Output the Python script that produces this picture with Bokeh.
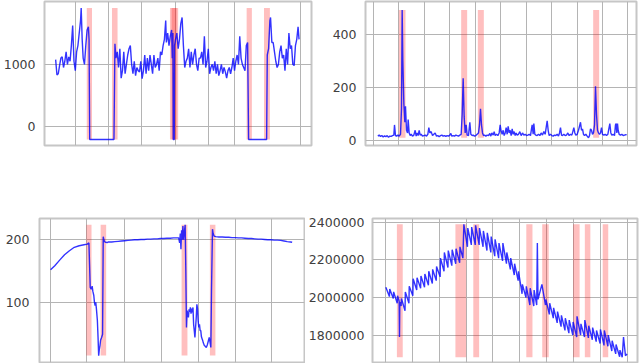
from bokeh.plotting import figure
from bokeh.layouts import column, row
from bokeh.models import Range1d, FixedTicker, BasicTickFormatter
from bokeh.embed import file_html
from bokeh.resources import INLINE

# ---------------- data (time steps, values) ----------------
tl_t = [152, 156, 160, 164, 168, 172, 176, 180, 184, 188,
        192, 196, 200, 204, 208, 212, 216, 220, 224, 228,
        230, 233, 236, 240, 244, 248, 252, 254, 256, 330,
        333, 336, 340, 344, 348, 352, 356, 360, 364, 368,
        372, 376, 380, 384, 388, 392, 396, 400, 404, 408,
        412, 416, 420, 424, 428, 432, 436, 440, 444, 448,
        452, 456, 460, 464, 468, 472, 476, 480, 484, 488,
        490, 494, 498, 502, 506, 508, 510, 511, 514, 515,
        518, 522, 526, 530, 534, 538, 542, 546, 550, 554,
        558, 562, 566, 570, 574, 578, 582, 586, 590, 594,
        598, 602, 606, 610, 614, 618, 622, 626, 630, 634,
        638, 642, 646, 650, 654, 658, 662, 666, 670, 674,
        678, 682, 686, 690, 694, 698, 702, 706, 710, 714,
        718, 722, 726, 730, 734, 738, 741, 796, 798, 802,
        806, 808, 812, 816, 820, 824, 828, 832, 836, 840,
        844, 848, 852, 856, 860, 864, 868, 872, 876, 880,
        884, 888, 892, 895]
tl_v = [1075, 830, 850, 980, 1100, 1120, 950, 1050, 1200, 1000,
        1120, 1050, 1300, 1620, 1050, 900, 1200, 1300, 1500, 1700,
        1900, 1400, 1100, 1000, 1300, 1550, 1600, 1400, -200, -200,
        1330, 1100, 1200, 950, 1250, 780, 900, 1200, 850, 1000,
        1150, 1250, 1300, 1000, 850, 1050, 820, 950, 900, 880,
        1050, 770, 900, 1150, 850, 1100, 900, 1150, 1000, 850,
        1150, 950, 1000, 1100, 900, 1200, 1150, 1300, 1400, 1700,
        1350, 1500, 1300, 1450, 1550, 1100, 1500, -200, -200, 1300,
        1400, 1500, 1250, 1400, 1650, 1750, 1300, 950, 1050, 1100,
        1250, 950, 1200, 1000, 1150, 1250, 1000, 900, 1100, 1100,
        1200, 1000, 1450, 950, 1050, 1250, 850, 950, 1000, 900,
        1050, 850, 1000, 820, 900, 1000, 850, 950, 880, 780,
        900, 950, 850, 950, 1100, 900, 1050, 1150, 1000, 1450,
        1100, 1000, 950, 900, 1300, 1350, -200, -200, 1150, 1250,
        1700, 1750, 1350, 1350, 1200, 1050, 950, 1000, 1200, 1300,
        1100, 1150, 900, 1250, 1000, 1500, 1250, 1300, 1000, 980,
        1300, 1400, 1600, 1400]
tl_band_start = [247, 324, 501, 506, 735, 788]
tl_band_end = [263, 341, 521, 526, 751, 806]
tl_xticks = [212, 313, 415, 518, 620, 697, 898]
tl_yticks = [0, 1000]

tr_t = [172, 176, 180, 184, 188, 192, 196, 200, 204, 208,
        212, 216, 220, 222, 225, 228, 232, 236, 240, 243,
        245, 247, 250, 253, 255, 258, 261, 263, 266, 269,
        272, 276, 280, 284, 287, 290, 293, 296, 299, 302,
        306, 310, 314, 318, 322, 325, 328, 332, 336, 340,
        344, 348, 352, 356, 360, 364, 368, 372, 376, 380,
        384, 388, 391, 394, 398, 402, 406, 410, 414, 418,
        422, 425, 428, 431, 434, 437, 440, 444, 448, 451,
        455, 458, 462, 466, 470, 474, 477, 480, 483, 486,
        489, 492, 496, 500, 504, 508, 511, 514, 518, 521,
        524, 528, 532, 536, 539, 542, 545, 548, 551, 554,
        557, 560, 563, 566, 569, 572, 575, 578, 581, 584,
        587, 590, 594, 598, 602, 606, 610, 614, 618, 622,
        626, 630, 633, 635, 638, 640, 643, 646, 650, 654,
        658, 662, 666, 670, 674, 677, 680, 683, 686, 690,
        694, 698, 702, 706, 710, 714, 717, 720, 723, 726,
        730, 734, 738, 742, 746, 750, 754, 757, 760, 763,
        766, 770, 774, 777, 780, 783, 786, 789, 792, 796,
        800, 804, 807, 810, 813, 816, 819, 822, 825, 828,
        831, 834, 837, 840, 843, 846, 850, 854, 858, 862,
        865, 868, 871, 874, 878, 882, 885, 887, 889, 891,
        893, 896, 900, 904, 908, 912, 916, 918]
tr_v = [18, 22, 17, 20, 15, 19, 16, 20, 14, 18,
        17, 20, 22, 60, 20, 18, 22, 18, 25, 120,
        490, 300, 140, 70, 130, 40, 30, 80, 30, 20,
        25, 18, 22, 40, 18, 30, 20, 40, 22, 25,
        18, 20, 22, 18, 25, 50, 30, 35, 20, 25,
        30, 18, 20, 16, 20, 22, 18, 20, 17, 20,
        18, 22, 28, 18, 20, 18, 22, 20, 18, 22,
        25, 100, 235, 90, 30, 60, 22, 20, 70, 25,
        20, 22, 18, 20, 25, 30, 60, 120, 60, 30,
        20, 22, 18, 22, 20, 28, 18, 30, 22, 35,
        20, 25, 20, 30, 60, 35, 25, 40, 20, 30,
        50, 25, 55, 30, 40, 20, 45, 25, 35, 20,
        30, 22, 25, 35, 20, 30, 22, 25, 20, 22,
        25, 20, 45, 60, 25, 65, 25, 22, 20, 25,
        20, 30, 22, 35, 25, 50, 75, 40, 20, 25,
        20, 18, 22, 20, 25, 18, 30, 50, 22, 20,
        25, 20, 22, 30, 20, 25, 22, 35, 50, 30,
        22, 25, 40, 55, 70, 40, 45, 25, 20, 25,
        18, 12, 20, 45, 40, 25, 30, 60, 205, 100,
        40, 30, 25, 30, 50, 25, 22, 25, 20, 25,
        45, 65, 30, 22, 25, 20, 60, 65, 30, 65,
        40, 25, 22, 25, 20, 22, 24, 22]
tr_band_start = [235, 422, 472, 818]
tr_band_end = [255, 440, 490, 836]
tr_xticks = [160, 235, 312, 388, 465, 540, 617, 693, 770, 845, 920]
tr_yticks = [0, 200, 400]

bl_t = [152, 165, 180, 195, 210, 225, 240, 255, 265, 270,
        272, 274, 277, 280, 282, 285, 287, 289, 291, 293,
        296, 298, 300, 302, 304, 306, 309, 312, 314, 316,
        318, 322, 326, 330, 340, 350, 360, 370, 380, 390,
        400, 410, 420, 430, 440, 450, 460, 470, 480, 490,
        500, 510, 520, 530, 540, 546, 549, 551, 553, 555,
        557, 559, 561, 563, 566, 568, 570, 572, 574, 576,
        578, 580, 582, 584, 586, 588, 590, 592, 594, 596,
        598, 600, 602, 604, 606, 608, 610, 612, 614, 616,
        618, 620, 622, 625, 628, 631, 634, 637, 640, 643,
        645, 647, 650, 652, 655, 660, 670, 680, 690, 700,
        710, 720, 730, 740, 750, 760, 770, 780, 790, 800,
        810, 820, 830, 840, 850, 860, 870, 880, 890, 895]
bl_v = [152, 158.5, 167.5, 176, 182.5, 188, 190.5, 192, 193, 195,
        160, 124, 121, 126, 118, 111, 100, 95, 100, 90,
        71, 45, 15, 25, 31, 40, 44, 49, 205, 200,
        197, 196, 195.5, 196.5, 196.5, 197, 197.5, 198, 198.5, 199,
        199.5, 200, 200, 200.5, 200.5, 201, 201, 201.5, 201.5, 202,
        202, 202.5, 202.5, 203, 203, 203, 195, 210, 185, 215,
        200, 222, 200, 210, 224, 150, 60, 87, 80, 76,
        89, 85, 92, 82, 90, 84, 92, 65, 55, 44,
        60, 75, 97, 90, 70, 60, 65, 55, 55, 45,
        42, 39, 35, 31, 30, 28, 32, 38, 44, 35,
        28, 120, 217, 210, 206, 205, 204.5, 204.5, 204, 204,
        203.5, 203.5, 203, 203, 202.5, 202, 202, 201.5, 201, 201,
        200.5, 200, 200, 199.5, 199.5, 199, 198, 197, 196.5, 196]
bl_band_start = [262, 306, 555, 642]
bl_band_end = [278, 323, 573, 659]
bl_xticks = [152, 262, 378, 492, 606, 720, 833]
bl_yticks = [100, 200]

br_t = [176, 187, 188, 199, 200, 211, 212, 217, 218, 219,
        223, 224, 235, 236, 247, 248, 259, 260, 271, 272,
        283, 284, 295, 296, 307, 308, 319, 320, 331, 332,
        343, 344, 355, 356, 367, 368, 379, 380, 391, 392,
        403, 404, 413, 416, 427, 428, 439, 440, 451, 452,
        463, 464, 475, 476, 487, 488, 499, 500, 511, 512,
        523, 524, 535, 536, 547, 548, 559, 560, 571, 572,
        583, 584, 595, 596, 607, 608, 619, 620, 631, 632,
        640, 642, 644, 656, 667, 668, 679, 680, 691, 692,
        703, 704, 715, 716, 727, 728, 739, 740, 751, 752,
        763, 764, 775, 776, 787, 788, 799, 800, 811, 812,
        823, 824, 835, 836, 847, 848, 859, 860, 871, 872,
        883, 884, 895, 896, 903, 907, 913, 918]
br_v = [2055000, 2005000, 2045000, 1995000, 2030000, 1970000, 2010000, 1980000, 1790000, 1975000,
        1955000, 1995000, 1930000, 2030000, 1970000, 2060000, 2010000, 2100000, 2040000, 2105000,
        2050000, 2115000, 2055000, 2125000, 2065000, 2140000, 2075000, 2150000, 2090000, 2165000,
        2110000, 2210000, 2140000, 2240000, 2160000, 2250000, 2170000, 2255000, 2180000, 2260000,
        2185000, 2270000, 2210000, 2390000, 2270000, 2370000, 2280000, 2375000, 2280000, 2385000,
        2280000, 2370000, 2270000, 2355000, 2250000, 2345000, 2240000, 2325000, 2220000, 2310000,
        2210000, 2290000, 2195000, 2290000, 2180000, 2240000, 2150000, 2210000, 2120000, 2180000,
        2090000, 2140000, 2020000, 2070000, 2000000, 2060000, 1960000, 2050000, 1955000, 2040000,
        1960000, 2290000, 1990000, 2070000, 1960000, 1990000, 1910000, 1970000, 1890000, 1945000,
        1865000, 1925000, 1845000, 1905000, 1825000, 1890000, 1810000, 1880000, 1800000, 1870000,
        1790000, 1900000, 1800000, 1860000, 1790000, 1880000, 1785000, 1850000, 1775000, 1840000,
        1765000, 1825000, 1755000, 1830000, 1745000, 1825000, 1740000, 1800000, 1715000, 1770000,
        1700000, 1750000, 1685000, 1720000, 1682000, 1790000, 1690000, 1700000]
br_band_start = [210, 390, 445, 608, 657, 752, 788, 843]
br_band_end = [228, 423, 463, 627, 677, 772, 805, 860]
br_xticks = [175, 258, 340, 424, 505, 588, 670, 752, 835, 918]
br_yticks = [1800000, 2000000, 2200000, 2400000]


def make_panel(t, v, b0, b1, xr, yr, xticks, yticks, width, height,
               bleft, bright, btop, bbottom, standoff):
    p = figure(width=width, height=height,
               x_range=Range1d(*xr), y_range=Range1d(*yr),
               output_backend="svg", toolbar_location=None,
               min_border_left=bleft, min_border_right=bright,
               min_border_top=btop, min_border_bottom=bbottom,
               background_fill_color="white", border_fill_color="white")
    lo, hi = min(v), max(v)
    p.quad(left=b0, right=b1, bottom=lo, top=hi,
           fill_color="red", fill_alpha=0.25, line_color=None)
    p.line(t, v, line_color="blue", line_alpha=0.8, line_width=1.4)

    p.xaxis.visible = False
    p.xgrid.ticker = FixedTicker(ticks=xticks)
    p.yaxis.ticker = FixedTicker(ticks=yticks)
    p.ygrid.ticker = FixedTicker(ticks=yticks)
    p.yaxis.formatter = BasicTickFormatter(use_scientific=False)
    p.yaxis.axis_line_color = None
    p.yaxis.major_tick_line_color = None
    p.yaxis.minor_tick_line_color = None
    p.yaxis.major_tick_out = 0
    p.yaxis.major_tick_in = 0
    p.yaxis.major_label_standoff = standoff
    p.yaxis.major_label_text_font = "DejaVu Sans"
    p.yaxis.major_label_text_font_size = "12.5px"
    p.yaxis.major_label_text_color = "#404040"
    p.grid.grid_line_color = "#b4b4b4"
    p.grid.grid_line_width = 1
    p.outline_line_color = "#c6c6c6"
    p.outline_line_width = 2
    return p


tl = make_panel(tl_t, tl_v, tl_band_start, tl_band_end, (118, 933), (-297, 2005),
                tl_xticks, tl_yticks, 320, 180, 39, 9, 1, 35, 9)
tr = make_panel(tr_t, tr_v, tr_band_start, tr_band_end, (135, 948), (-17, 522),
                tr_xticks, tr_yticks, 320, 180, 45, 4, 1, 35, 9)
bl = make_panel(bl_t, bl_v, bl_band_start, bl_band_end, (118, 933), (4, 234),
                bl_xticks, bl_yticks, 305, 183, 39, 1, 38, 1, 10)
br = make_panel(br_t, br_v, br_band_start, br_band_end, (135, 950), (1654000, 2421000),
                br_xticks, br_yticks, 335, 183, 61, 3, 38, 1, 8)

layout = column(row(tl, tr), row(bl, br))

with open("out.html", "w") as f:
    f.write(file_html(layout, INLINE))
